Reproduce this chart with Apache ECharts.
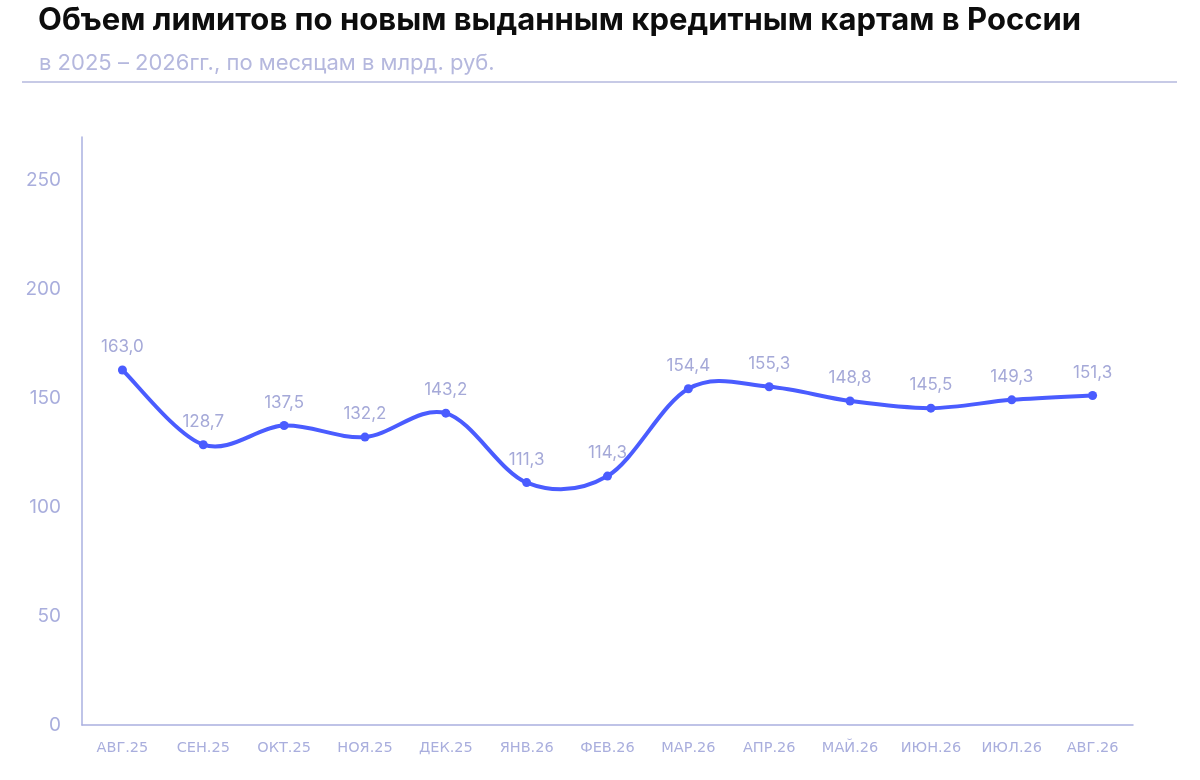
<!DOCTYPE html>
<html><head><meta charset="utf-8">
<script src="https://cdn.jsdelivr.net/npm/echarts@6/dist/echarts.min.js"></script>
<style>html,body{margin:0;padding:0;background:#fff}#c{width:1200px;height:780px}</style>
</head><body><div id="c"></div>
<script>
const categories = ["АВГ.25","СЕН.25","ОКТ.25","НОЯ.25","ДЕК.25","ЯНВ.26","ФЕВ.26","МАР.26","АПР.26","МАЙ.26","ИЮН.26","ИЮЛ.26","АВГ.26"];
const values = [163.0,128.7,137.5,132.2,143.2,111.3,114.3,154.4,155.3,148.8,145.5,149.3,151.3];
const titleText = "Объем лимитов по новым выданным кредитным картам в России";
const subtitleText = "в 2025 – 2026гг., по месяцам в млрд. руб.";

const lineColor = '#4a5cff';
const chart = echarts.init(document.getElementById('c'));

function renderCurve(params, api) {
  if (params.dataIndex !== 0) return null;
  const pts = values.map((v, i) => api.coord([i, v]));
  const n = pts.length;
  let d = 'M' + pts[0][0] + ' ' + pts[0][1];
  for (let i = 0; i < n - 1; i++) {
    const p0 = pts[Math.max(0, i - 1)], p1 = pts[i], p2 = pts[i + 1], p3 = pts[Math.min(n - 1, i + 2)];
    const c1x = p1[0] + (p2[0] - p0[0]) / 6, c1y = p1[1] + (p2[1] - p0[1]) / 6;
    const c2x = p2[0] - (p3[0] - p1[0]) / 6, c2y = p2[1] - (p3[1] - p1[1]) / 6;
    d += ' C' + c1x + ' ' + c1y + ' ' + c2x + ' ' + c2y + ' ' + p2[0] + ' ' + p2[1];
  }
  return {type: 'path', shape: {pathData: d}, style: {stroke: lineColor, lineWidth: 4, fill: null, lineCap: 'round', lineJoin: 'round'}};
}

chart.setOption({
  backgroundColor: '#fff',
  animation: false,
  title: [
    {text: titleText, left: 33, top: 0, textStyle: {fontFamily: 'Inter', fontWeight: 700, fontSize: 31, color: '#0d0d0d'}},
    {text: subtitleText, left: 34, top: 47, textStyle: {fontFamily: 'Inter', fontWeight: 400, fontSize: 22, color: '#b5b8de'}}
  ],
  graphic: [{type: 'line', shape: {x1: 22, y1: 82, x2: 1177, y2: 82}, style: {stroke: '#c7cae6', lineWidth: 2}}],
  grid: {left: 82, right: 67, top: 137, bottom: 55},
  xAxis: {
    type: 'category', data: categories, boundaryGap: true,
    axisLine: {lineStyle: {color: '#aab0e0', width: 1.5}},
    axisTick: {show: false},
    axisLabel: {interval: 0, color: '#a9aedd', fontFamily: 'DejaVu Sans', fontSize: 14.5, margin: 16}
  },
  yAxis: {
    type: 'value', min: 0, max: 270, interval: 50,
    axisLine: {show: true, lineStyle: {color: '#aab0e0', width: 1.5}},
    axisTick: {show: false},
    splitLine: {show: false},
    axisLabel: {color: '#a9aedd', fontFamily: 'Inter', fontSize: 19, margin: 21, showMaxLabel: false}
  },
  series: [
    {
      type: 'custom', data: values.map((v, i) => [i, v]), encode: {x: 0, y: 1},
      renderItem: renderCurve, z: 2, silent: true
    },
    {
      type: 'line', data: values, z: 3,
      lineStyle: {width: 0, opacity: 0},
      itemStyle: {color: lineColor},
      symbol: 'circle', symbolSize: 9,
      label: {show: true, position: 'top', distance: 10, color: '#a5a9d8', fontFamily: 'Inter', fontSize: 17,
        formatter: p => p.value.toFixed(1).replace('.', ',')}
    }
  ]
});
</script></body></html>
